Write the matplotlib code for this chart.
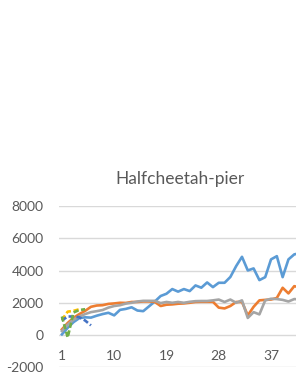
import matplotlib
matplotlib.use("Agg")
import matplotlib.pyplot as plt
import numpy as np

plt.rcParams['font.family'] = ['Lato', 'DejaVu Sans']

############ data ############
title = "Halfcheetah-pier"
steps = np.arange(1, 43)
blue = [40, 450, 800, 1050, 1100, 1080, 1200, 1300, 1380, 1220,
        1560, 1620, 1720, 1520, 1480, 1780, 2080, 2420, 2560, 2850,
        2690, 2850, 2725, 3075, 2935, 3260, 2970, 3240, 3240, 3600,
        4275, 4850, 4005, 4130, 3405, 3590, 4690, 4890, 3590, 4690,
        5000, 5080]
orange = [350, 750, 1070, 1300, 1500, 1750, 1830, 1850, 1930, 1960,
          2000, 1990, 2050, 2050, 2080, 2080, 2050, 1800, 1880, 1900,
          1940, 1960, 2000, 2050, 2060, 2060, 2060, 1700, 1650, 1800,
          2050, 2050, 1220, 1750, 2150, 2180, 2200, 2300, 2930, 2580,
          3030, 2950]
gray = [250, 650, 950, 1150, 1300, 1420, 1480, 1550, 1700, 1800,
        1850, 1950, 2000, 2080, 2120, 2120, 2120, 1980, 2050, 2000,
        2050, 2000, 2060, 2100, 2110, 2110, 2150, 2200, 2050, 2200,
        2000, 2150, 1060, 1420, 1280, 2150, 2250, 2230, 2180, 2080,
        2230, 2200]
gold = [950, 1450, 1500, 1600]
darkblue = [900, 1150, 1150, 1100, 900, 600]
green = [1150, -150, 1400, 1550, 1600]

yticks = [-2000, 0, 2000, 4000, 6000, 8000]
xticks = [1, 10, 19, 28, 37]

grey_txt = "#595959"

fig = plt.figure(figsize=(2.96, 3.83), dpi=100)
ax = fig.add_axes([59/296, 15.7/383, 1 - 59/296, (367.3 - 206)/383])

############ lines ############
lw = 1.9
ax.plot(steps, blue, color="#5B9BD5", linewidth=lw, solid_joinstyle='round')
ax.plot(steps, orange, color="#ED7D31", linewidth=lw, solid_joinstyle='round')
ax.plot(steps, gray, color="#A5A5A5", linewidth=lw, solid_joinstyle='round')
ax.plot(steps[:len(gold)], gold, color="#FFC000", linewidth=lw, linestyle=(0, (2, 1)))
ax.plot(steps[:len(darkblue)], darkblue, color="#4472C4", linewidth=lw, linestyle=(0, (2, 1)))
ax.plot(steps[:len(green)], green, color="#70AD47", linewidth=lw, linestyle=(0, (2, 1)))

ax.set_xlim(0.5, 41.3)
ax.set_ylim(-2000, 8000)
ax.set_yticks(yticks)
ax.set_yticklabels([str(v) for v in yticks])
ax.set_xticks([])
ax.grid(axis='y', color="#D9D9D9", linewidth=1)
ax.set_axisbelow(True)
for s in ax.spines.values():
    s.set_visible(False)
ax.tick_params(axis='y', length=0, pad=11, labelsize=10, labelcolor=grey_txt)

# category labels sit just under the zero line
for t in xticks:
    ax.text(t, -1300, str(t), ha='center', va='center', fontsize=10, color=grey_txt)

fig.text(180/296, 1 - 179/383, title, ha='center', va='center', fontsize=12.5, color=grey_txt)

plt.savefig("out.png", dpi=100)
